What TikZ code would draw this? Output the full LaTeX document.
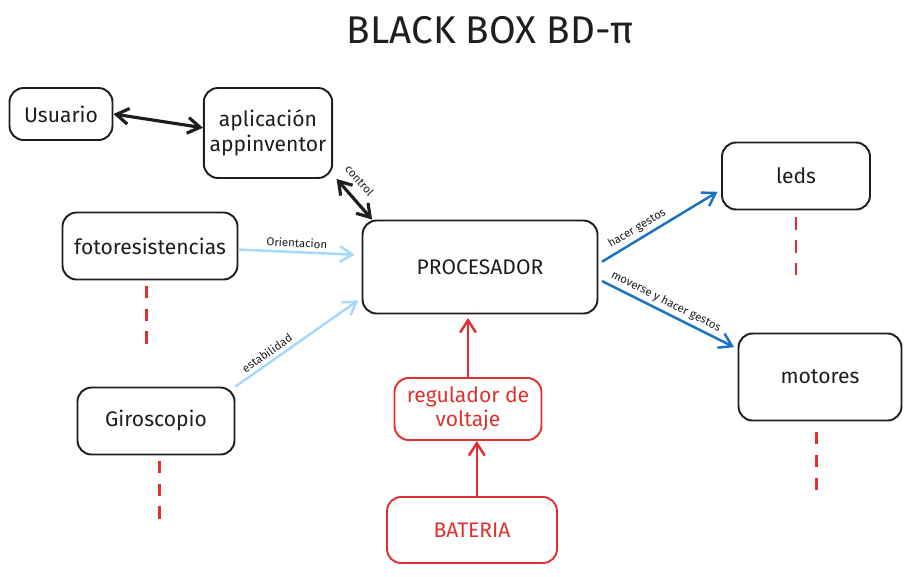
\documentclass[tikz,border=0pt]{standalone}
\usepackage{fontspec}
\setmainfont{Fira Sans}
\usetikzlibrary{arrows.meta}
\definecolor{ink}{HTML}{1E1E1E}
\definecolor{skyblue}{HTML}{A5D8FF}
\definecolor{deepblue}{HTML}{1971C2}
\definecolor{alertred}{HTML}{E03131}

\begin{document}
\begin{tikzpicture}[x=0.02cm,y=-0.02cm,
   box/.style={draw=ink,text=ink,rounded corners=8pt,line width=1.1pt,align=center,font=\large},
   redbox/.style={box,draw=alertred,text=alertred},
   tip/.style={-{Straight Barb[length=7pt,width=9pt]}},
   link/.style={draw=ink,line width=1.8pt,{Straight Barb[length=7pt,width=9pt]}-{Straight Barb[length=7pt,width=9pt]}},
   weak/.style={tip,draw=skyblue,line width=1.4pt},
   strong/.style={tip,draw=deepblue,line width=1.4pt},
   feed/.style={tip,draw=alertred,line width=1.4pt},
   reddash/.style={draw=alertred,line width=1.3pt,dash pattern=on 7pt off 6pt},
   tag/.style={font=\fontsize{6.5}{8}\selectfont,text=ink,sloped,above,inner sep=2pt}]
   \useasboundingbox (0,0) rectangle (912,576);
   % Title
   \node[font=\fontsize{22}{26}\selectfont,text=ink] (title) at (490,30) {BLACK BOX BD-π};
   % Left
   \node[box,minimum width=2.06cm,minimum height=1.04cm] (user) at (61,114) {Usuario};
   \node[box,minimum width=2.46cm,minimum height=1.8cm] (app) at (268,133) {aplicación\\appinventor};
   \node[box,minimum width=3.5cm,minimum height=1.34cm] (foto) at (150,246) {fotoresistencias};
   \node[box,minimum width=3.14cm,minimum height=1.34cm] (giro) at (156,421) {Giroscopio};
   % Middle
   \node[box,minimum width=4.7cm,minimum height=1.86cm] (cpu) at (480,267) {PROCESADOR};
   \node[redbox,minimum width=2.94cm,minimum height=1.24cm] (reg) at (468,409) {regulador de\\voltaje};
   \node[redbox,minimum width=3.4cm,minimum height=1.32cm] (bat) at (472,530) {BATERIA};
   % Right
   \node[box,minimum width=2.96cm,minimum height=1.34cm] (leds) at (796,176) {leds};
   \node[box,minimum width=3.26cm,minimum height=1.74cm] (motor) at (820,377) {motores};
   % Arrows
   \draw[link] (user.east) -- ([yshift=3pt]app.west);
   \draw[link] ([xshift=2pt]app.south east) -- ([xshift=6pt]cpu.north west)
      node[tag,pos=0.3,above=4pt] {control};
   \draw[weak] ([yshift=-2pt]foto.east) -- ([xshift=-4pt,yshift=7pt]cpu.west)
      node[tag,midway] {Orientacion};
   \draw[weak] (giro.north east) -- ([xshift=-2pt,yshift=8pt]cpu.south west)
      node[tag,pos=0.3] {estabilidad};
   \draw[strong] ([xshift=2pt,yshift=3pt]cpu.east) -- ([xshift=-2pt,yshift=-9pt]leds.west)
      node[tag,pos=0.35] {hacer gestos};
   \draw[strong] ([xshift=2pt,yshift=-8pt]cpu.east) -- ([xshift=-2pt,yshift=17pt]motor.west)
      node[tag,pos=0.45] {moverse y hacer gestos};
   \draw[feed] (reg.north) -- ([yshift=-2pt]cpu.south -| reg.north);
   \draw[feed] ([xshift=5pt]bat.north -| reg.south) -- ([xshift=5pt]reg.south);
   % Dashes
   \draw[reddash] ([xshift=-2pt,yshift=-3pt]foto.south) -- ++(0,64);
   \draw[reddash] ([xshift=2pt,yshift=-3pt]giro.south) -- ++(0,64);
   \draw[reddash] ([yshift=-4pt]leds.south) -- ++(0,60);
   \draw[reddash] ([xshift=-2pt,yshift=-6pt]motor.south) -- ++(0,60);
\end{tikzpicture}
\end{document}
